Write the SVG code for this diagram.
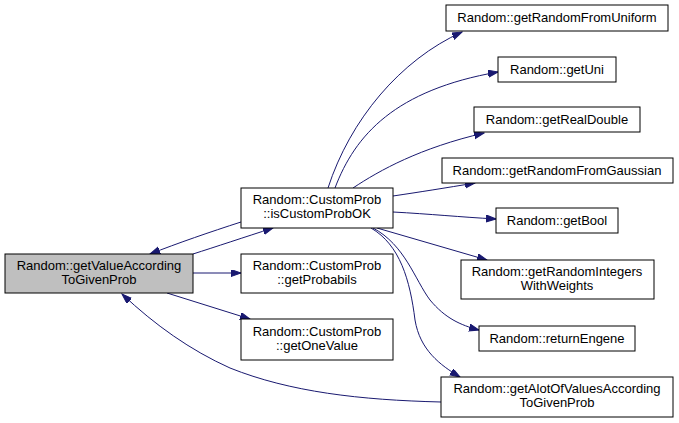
<svg xmlns="http://www.w3.org/2000/svg" width="679" height="423" viewBox="0 0 679 423">
<defs>
<style>
.n rect{fill:#ffffff;stroke:#000000;stroke-width:1}
.n.root rect{fill:#bfbfbf}
.n text{font-family:"Liberation Sans",Arial,sans-serif;font-size:13px;fill:#000000;text-anchor:middle}
.e path{fill:none;stroke:#191970;stroke-width:1;marker-end:url(#ah)}
</style>
<marker id="ah" markerUnits="userSpaceOnUse" markerWidth="11" markerHeight="8" refX="10" refY="3.5" orient="auto">
<path d="M0,0 L10,3.5 L0,7 Z" fill="#191970" stroke="#191970" stroke-width="1"/>
</marker>
</defs>
<rect width="679" height="423" fill="#ffffff"/>
<g id="edges" class="e">
<path d="M193,254 C215,247 245,237 273,228"/>
<path d="M241,222 C210,232 178,243 150,254"/>
<path d="M193,273 L241,273"/>
<path d="M167,293 L250,319"/>
<path d="M441,402 C360,400 290,392 230,368 C190,350 155,325 122,294"/>
<path d="M328,188 C350,120 400,60 462,32"/>
<path d="M335,188 C355,135 395,90 498,72"/>
<path d="M353,188 C380,170 420,148 484,133"/>
<path d="M393,196 C420,192 445,188 475,183"/>
<path d="M393,212 C430,214 460,217 496,219"/>
<path d="M377,228 L487,260"/>
<path d="M373,228 C405,245 415,280 430,300 C445,318 460,325 479,330"/>
<path d="M371,228 C400,245 410,280 415,320 C420,350 440,365 460,377"/>
</g>
<g id="n_main" class="n root">
<rect x="5" y="254" width="188" height="39"/>
<text x="99" y="270">Random::getValueAccording</text>
<text x="99" y="284">ToGivenProb</text>
</g>
<g id="n_isCustomProbOK" class="n">
<rect x="241" y="188" width="152" height="40"/>
<text x="317" y="204">Random::CustomProb</text>
<text x="317" y="218">::isCustomProbOK</text>
</g>
<g id="n_getProbabils" class="n">
<rect x="241" y="254" width="152" height="39"/>
<text x="317" y="270">Random::CustomProb</text>
<text x="317" y="284">::getProbabils</text>
</g>
<g id="n_getOneValue" class="n">
<rect x="241" y="319" width="152" height="41"/>
<text x="317" y="336">Random::CustomProb</text>
<text x="317" y="350">::getOneValue</text>
</g>
<g id="n_getRandomFromUniform" class="n">
<rect x="446" y="5" width="222" height="26"/>
<text x="557" y="22">Random::getRandomFromUniform</text>
</g>
<g id="n_getUni" class="n">
<rect x="498" y="57" width="118" height="25"/>
<text x="557" y="74">Random::getUni</text>
</g>
<g id="n_getRealDouble" class="n">
<rect x="474" y="107" width="166" height="25"/>
<text x="557" y="124">Random::getRealDouble</text>
</g>
<g id="n_getRandomFromGaussian" class="n">
<rect x="442" y="158" width="231" height="25"/>
<text x="557" y="175">Random::getRandomFromGaussian</text>
</g>
<g id="n_getBool" class="n">
<rect x="496" y="208" width="122" height="25"/>
<text x="557" y="225">Random::getBool</text>
</g>
<g id="n_getRandomIntegersWithWeights" class="n">
<rect x="461" y="260" width="193" height="39"/>
<text x="557" y="276">Random::getRandomIntegers</text>
<text x="557" y="290">WithWeights</text>
</g>
<g id="n_returnEngene" class="n">
<rect x="479" y="326" width="156" height="25"/>
<text x="557" y="343">Random::returnEngene</text>
</g>
<g id="n_getAlotOfValuesAccordingToGivenProb" class="n">
<rect x="441" y="377" width="232" height="40"/>
<text x="557" y="393">Random::getAlotOfValuesAccording</text>
<text x="557" y="407">ToGivenProb</text>
</g>
</svg>
